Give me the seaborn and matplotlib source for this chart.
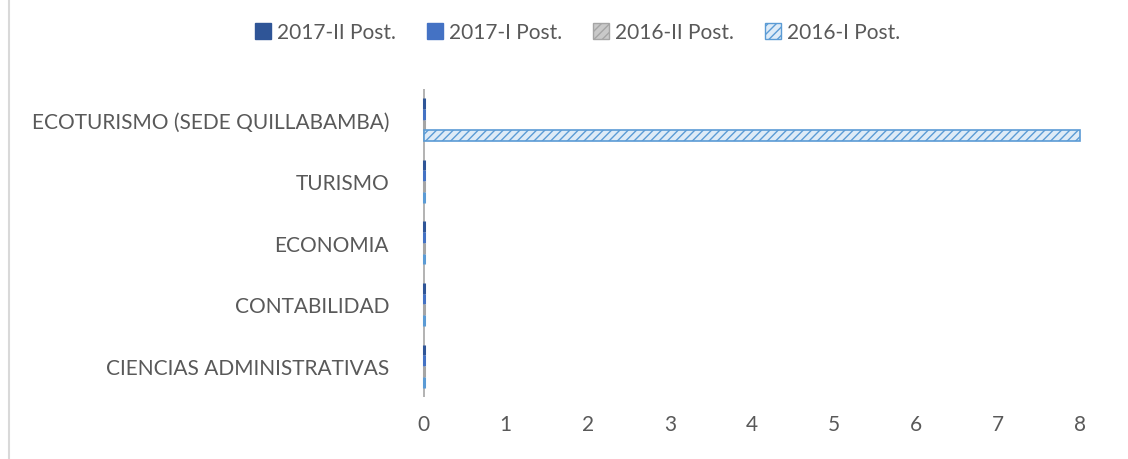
import pandas as pd
import matplotlib.pyplot as plt
import seaborn as sns
from matplotlib.patches import Patch
from matplotlib.lines import Line2D

# chart data
careers = ["ECOTURISMO (SEDE QUILLABAMBA)", "TURISMO", "ECONOMIA",
           "CONTABILIDAD", "CIENCIAS ADMINISTRATIVAS"]
series = ["2017-II Post.", "2017-I Post.", "2016-II Post.", "2016-I Post."]
post_2017_ii = [0, 0, 0, 0, 0]
post_2017_i = [0, 0, 0, 0, 0]
post_2016_ii = [0, 0, 0, 0, 0]
post_2016_i = [8, 0, 0, 0, 0]
x_ticks = [0, 1, 2, 3, 4, 5, 6, 7, 8]

colors = ["#2F5597", "#4472C4", "#A5A5A5", "#5B9BD5"]
faces = ["#2F5597", "#4472C4", "#C9C9C9", "#DEEBF7"]

rows = []
for s, vals in zip(series, [post_2017_ii, post_2017_i, post_2016_ii, post_2016_i]):
    for c, v in zip(careers, vals):
        rows.append({"career": c, "series": s, "value": v})
df = pd.DataFrame(rows)

sns.set_style("white")
plt.rcParams["font.family"] = ["Lato", "DejaVu Sans"]

fig = plt.figure(figsize=(11.28, 4.6), dpi=100)
ax = fig.add_axes([0.372, 0.135, 0.60, 0.67])

sns.barplot(data=df, y="career", x="value", hue="series", order=careers,
            hue_order=series, orient="h", palette=colors, ax=ax,
            width=0.7, legend=False)

for patch, (s, _) in zip(ax.patches, [(s, c) for s in series for c in careers]):
    i = series.index(s)
    patch.set_edgecolor(colors[i])
    patch.set_linewidth(2.2 if patch.get_width() == 0 else 1.2)
    patch.set_facecolor(faces[i])
    if s == "2016-I Post.":
        patch.set_hatch("////")

ax.axvline(0, color="#A6A6A6", lw=1.2, zorder=0)
for sp in ax.spines.values():
    sp.set_visible(False)
ax.set_xlim(-0.05, 8.2)
ax.set_xticks(x_ticks)
ax.tick_params(axis="both", length=0, labelsize=15, labelcolor="#595959")
ax.tick_params(axis="x", pad=12)
ax.tick_params(axis="y", pad=22)
ax.set_xlabel("")
ax.set_ylabel("")

handles = [Patch(facecolor=faces[i], edgecolor=colors[i], hatch="////")
           for i in range(len(series))]
fig.legend(handles, series, loc="upper center", bbox_to_anchor=(0.512, 0.99),
           ncol=4, frameon=False, fontsize=15, labelcolor="#595959",
           handlelength=0.75, handleheight=0.75, handletextpad=0.3,
           columnspacing=1.5)

fig.add_artist(Line2D([0.008, 0.008], [0, 1], color="#D9D9D9", lw=1.5,
                      transform=fig.transFigure))

fig.savefig("out.png", dpi=100)
